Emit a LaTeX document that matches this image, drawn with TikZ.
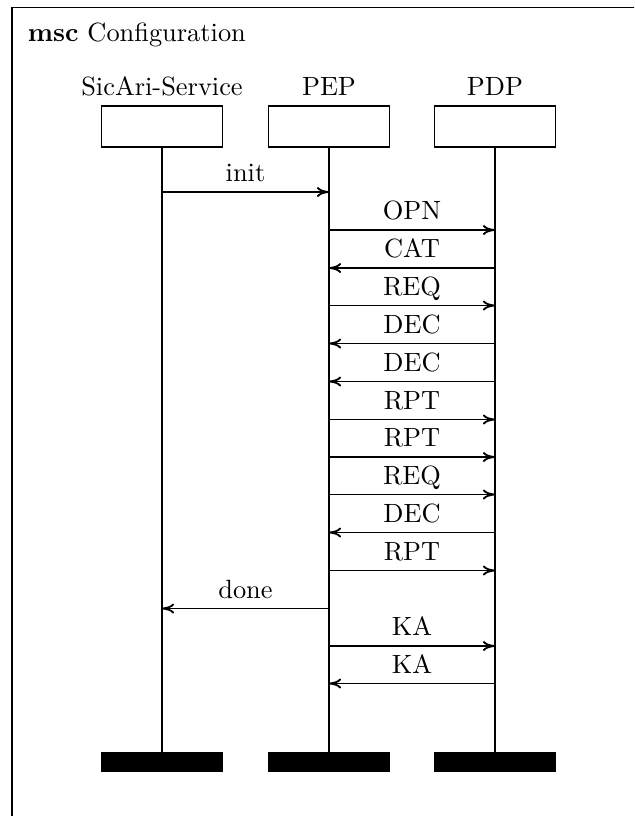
\documentclass[tikz,border=0pt]{standalone}
\usetikzlibrary{arrows.meta}
\begin{document}
\begin{tikzpicture}[x=0.379pt,y=-0.379pt,line width=0.7pt,
  headbox/.style={draw,minimum width=45.86pt,minimum height=15.54pt,inner sep=0pt},
  endbar/.style={draw,fill=black,minimum width=45.86pt,minimum height=6.82pt,inner sep=0pt},
  iname/.style={anchor=base,inner sep=0pt},
  msg/.style={-{To[length=4.6pt,width=3.8pt]}},
  msglbl/.style={anchor=base,yshift=3.8pt,inner sep=0pt}]
\useasboundingbox (0,0) rectangle (634,816);
\clip (0,0) rectangle (634,816);
% frame
\node[draw,minimum width=250pt,minimum height=320pt,anchor=north west,inner sep=0pt] (frame) at (11.5,6.5) {};
\node[anchor=base west,inner sep=0pt] (title) at (27,41) {\textbf{msc} Configuration};
% instances
\foreach \x/\n/\t in {162/s/SicAri-Service,329/p/PEP,495/d/PDP}{
  \node[iname] (\n name) at (\x,95) {\t};
  \node[headbox] (\n head) at (\x,126.2) {};
  \node[endbar] (\n end) at (\x,762) {};
  \draw (\n head.south) -- (\n end.north);
}
% messages
\foreach \y/\a/\b/\t [count=\i] in {
  192/s/p/init, 230/p/d/OPN, 268/d/p/CAT, 305.5/p/d/REQ, 343.5/d/p/DEC,
  381.5/d/p/DEC, 419.5/p/d/RPT, 457/p/d/RPT, 494.5/p/d/REQ, 532.5/d/p/DEC,
  570.5/p/d/RPT, 608.5/p/s/done, 646/p/d/KA, 683.5/d/p/KA}{
  \coordinate (m\i s) at (\a head.south |- 0,\y);
  \coordinate (m\i e) at (\b head.south |- 0,\y);
  \draw[msg] (m\i s) -- node[msglbl] (m\i l) {\t} (m\i e);
}
\end{tikzpicture}
\end{document}
